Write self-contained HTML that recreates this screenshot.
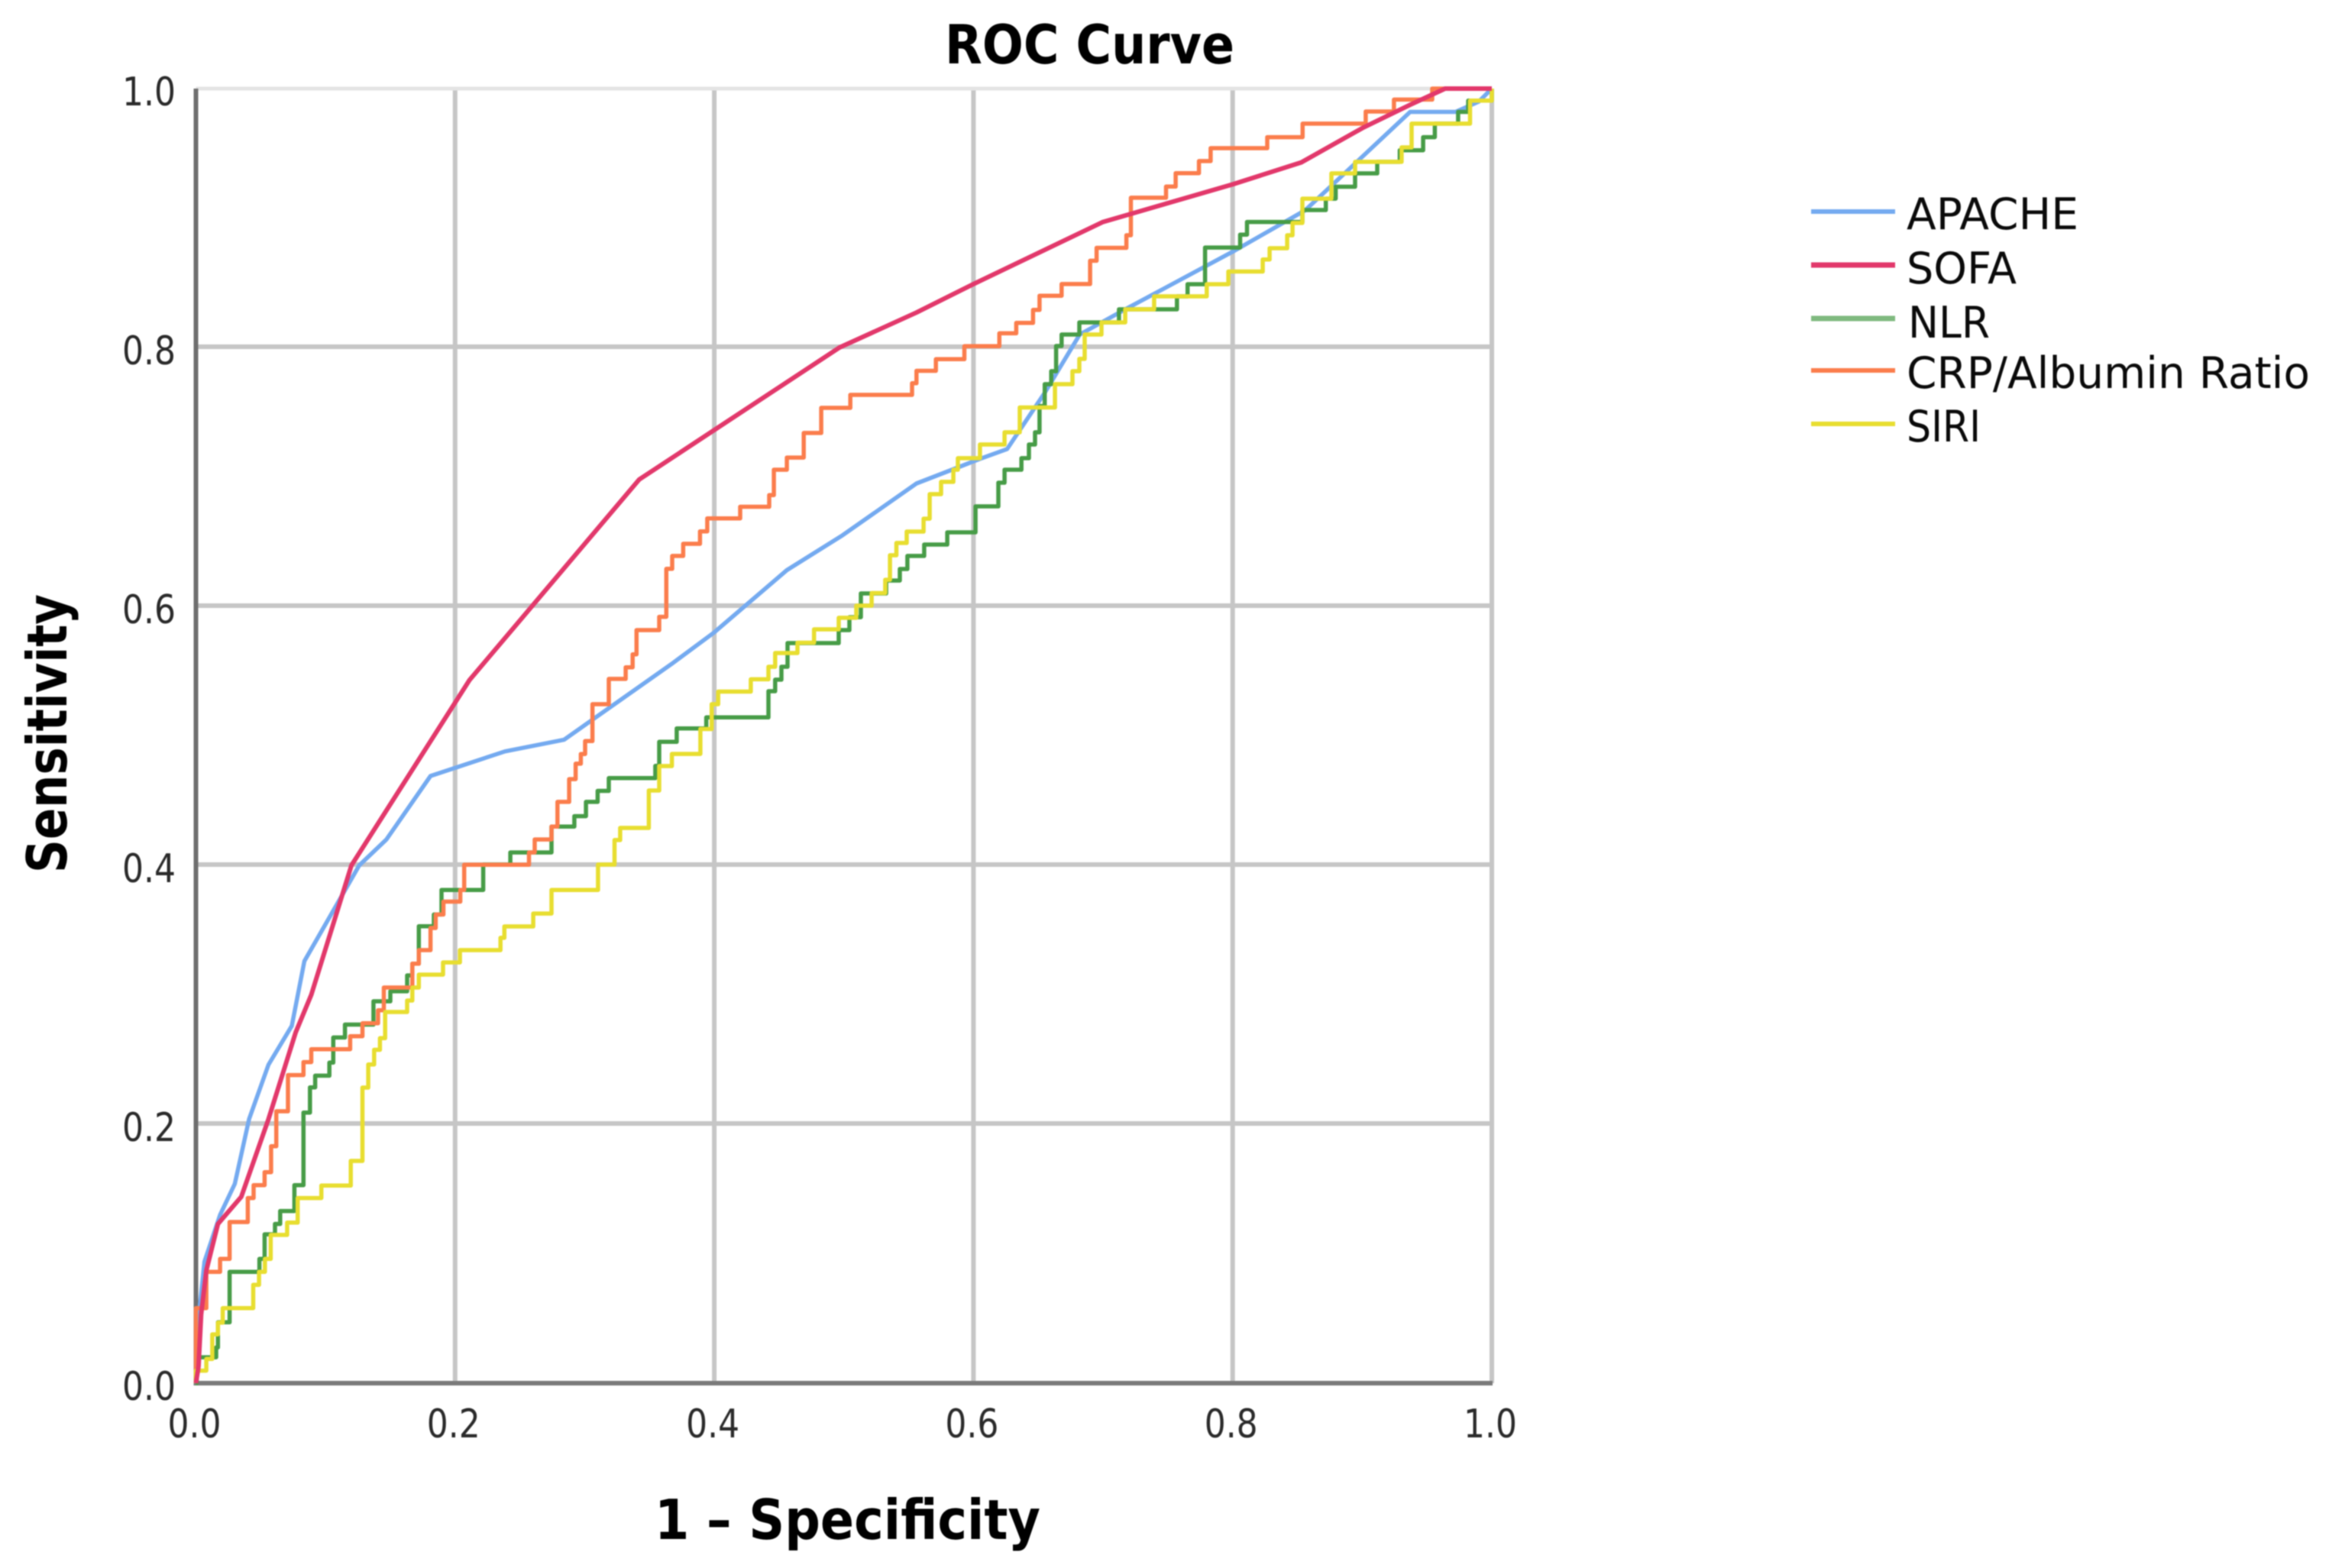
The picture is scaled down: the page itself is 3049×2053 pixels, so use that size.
<!DOCTYPE html>
<html lang="en">
<head>
<meta charset="utf-8">
<title>ROC Curve</title>
<style>
html,body{margin:0;padding:0;background:#fff;}
svg{display:block;width:3049px;height:2053px;filter:blur(0.9px);}
text{font-family:"DejaVu Sans","Liberation Sans",sans-serif;fill:#111;}
.tick{font-size:52px;fill:#2a2a2a;}
.title{font-size:70px;font-weight:bold;fill:#000;}
.legend-label{font-size:57px;fill:#0a0a0a;}
</style>
</head>
<body>
<svg id="chart" xmlns="http://www.w3.org/2000/svg" width="3049" height="2053" viewBox="0 0 3049 2053">
  <rect x="0" y="0" width="3049" height="2053" fill="#ffffff"/>
  <g id="grid"></g>
  <g id="axes"></g>
  <g id="ticks"></g>
  <g id="curves"></g>

  <text class="title" x="1237" y="83" textLength="379" lengthAdjust="spacingAndGlyphs">ROC Curve</text>
  <text class="title" x="857" y="2015" style="font-size:72px" textLength="505" lengthAdjust="spacingAndGlyphs">1 – Specificity</text>
  <text class="title" transform="translate(87,1143) rotate(-90)" x="0" y="0" style="font-size:72px" textLength="365" lengthAdjust="spacingAndGlyphs">Sensitivity</text>

  <g>
    <g>
      <line x1="2371" x2="2481" y1="277" y2="277" stroke="#74aaf0" stroke-width="6"/>
      <text class="legend-label" x="2496" y="300" textLength="225" lengthAdjust="spacingAndGlyphs">APACHE</text>
    </g>
    <g>
      <line x1="2371" x2="2481" y1="347" y2="347" stroke="#e2386b" stroke-width="7"/>
      <text class="legend-label" x="2496" y="371" textLength="144" lengthAdjust="spacingAndGlyphs">SOFA</text>
    </g>
    <g>
      <line x1="2371" x2="2481" y1="417" y2="417" stroke="#7fba7f" stroke-width="7"/>
      <text class="legend-label" x="2498" y="442" textLength="107" lengthAdjust="spacingAndGlyphs">NLR</text>
    </g>
    <g>
      <line x1="2371" x2="2481" y1="485" y2="485" stroke="#fb7d4c" stroke-width="6"/>
      <text class="legend-label" x="2496" y="508" textLength="528" lengthAdjust="spacingAndGlyphs">CRP/Albumin Ratio</text>
    </g>
    <g>
      <line x1="2371" x2="2481" y1="555" y2="555" stroke="#e8de30" stroke-width="6"/>
      <text class="legend-label" x="2496" y="578" textLength="97" lengthAdjust="spacingAndGlyphs">SIRI</text>
    </g>
  </g>
</svg>

<script>
const tickValues = [0, 0.2, 0.4, 0.6, 0.8, 1];
const tickLabels = ["0.0", "0.2", "0.4", "0.6", "0.8", "1.0"];

const apacheX = [0,0.002,0.0066,0.0186,0.03,0.041,0.056,0.074,0.0837,0.126,0.147,0.181,0.2385,0.284,0.367,0.4,0.456,0.499,0.556,0.605,0.626,0.655,0.682,0.70,0.718,0.8,0.856,0.937,0.972,0.99,1];
const apacheY = [0,0.05,0.094,0.13,0.154,0.204,0.246,0.276,0.326,0.40,0.42,0.469,0.488,0.497,0.5555,0.58,0.628,0.655,0.695,0.714,0.7216,0.765,0.81,0.82,0.83,0.874,0.906,0.982,0.982,0.99,1];

const sofaX = [0,0.002,0.004,0.008,0.017,0.035,0.056,0.077,0.089,0.12,0.211,0.342,0.4966,0.556,0.6,0.70,0.8,0.853,0.901,0.937,0.964,1];
const sofaY = [0,0.013,0.053,0.087,0.123,0.144,0.204,0.271,0.30,0.40,0.543,0.698,0.80,0.827,0.849,0.897,0.926,0.943,0.97,0.9875,1,1];

const nlrX = [0,0.0006,0.0156,0.017,0.026,0.049,0.053,0.061,0.065,0.076,0.083,0.088,0.092,0.103,0.106,0.115,0.137,0.15,0.163,0.167,0.172,0.1836,0.1895,0.2217,0.2426,0.2744,0.292,0.301,0.31,0.3186,0.3545,0.3575,0.371,0.3938,0.4418,0.447,0.4518,0.4565,0.496,0.5043,0.5131,0.5326,0.5432,0.549,0.562,0.5798,0.6016,0.6192,0.624,0.637,0.6428,0.6475,0.651,0.655,0.66,0.6638,0.668,0.6817,0.7123,0.757,0.7652,0.7787,0.8058,0.8111,0.8538,0.8719,0.8795,0.8945,0.9116,0.929,0.947,0.956,0.974,0.9818,1];
const nlrY = [0,0.02,0.0276,0.047,0.086,0.096,0.115,0.123,0.133,0.153,0.209,0.2285,0.2375,0.2476,0.267,0.277,0.295,0.3027,0.315,0.324,0.353,0.362,0.381,0.4006,0.41,0.43,0.438,0.449,0.4575,0.4674,0.4768,0.4954,0.5058,0.5143,0.5345,0.5434,0.5534,0.5717,0.5817,0.5917,0.61,0.62,0.6289,0.639,0.6478,0.6572,0.6773,0.6956,0.7056,0.7145,0.7251,0.7345,0.7548,0.7717,0.7817,0.8012,0.81,0.8194,0.8295,0.8395,0.8489,0.8772,0.8872,0.897,0.9062,0.915,0.9242,0.9345,0.9434,0.9524,0.9625,0.9729,0.982,0.9907,1];

const crpX = [0,0,0.008,0.0186,0.026,0.040,0.0445,0.053,0.058,0.062,0.071,0.083,0.089,0.119,0.1285,0.1405,0.145,0.167,0.172,0.181,0.185,0.191,0.204,0.207,0.257,0.2614,0.2744,0.279,0.288,0.293,0.297,0.3003,0.306,0.3186,0.3316,0.337,0.34,0.3575,0.363,0.3675,0.376,0.389,0.3946,0.42,0.4424,0.446,0.456,0.469,0.4825,0.505,0.5526,0.556,0.571,0.593,0.62,0.633,0.646,0.651,0.668,0.69,0.695,0.718,0.7215,0.7486,0.756,0.774,0.783,0.8267,0.854,0.9027,0.9245,0.954,1];
const crpY = [0,0.058,0.086,0.096,0.1245,0.143,0.153,0.163,0.183,0.21,0.238,0.248,0.258,0.268,0.278,0.288,0.3056,0.324,0.3345,0.3516,0.362,0.372,0.381,0.4005,0.41,0.42,0.43,0.449,0.4666,0.4785,0.486,0.496,0.5245,0.544,0.553,0.563,0.5817,0.592,0.629,0.639,0.6484,0.658,0.668,0.677,0.686,0.7056,0.715,0.734,0.7534,0.7634,0.7724,0.782,0.791,0.801,0.811,0.819,0.829,0.84,0.849,0.867,0.877,0.8867,0.9157,0.9243,0.9347,0.944,0.954,0.9625,0.9729,0.9823,0.9915,1,1];

const siriX = [0,0,0.008,0.0126,0.017,0.0207,0.0442,0.0487,0.0532,0.0577,0.0704,0.0785,0.0968,0.1195,0.1285,0.133,0.1375,0.142,0.146,0.163,0.167,0.172,0.1907,0.2037,0.235,0.238,0.2603,0.2744,0.3103,0.323,0.3274,0.3495,0.3575,0.3673,0.3893,0.398,0.403,0.4282,0.4418,0.447,0.4642,0.477,0.496,0.5096,0.5214,0.5319,0.5356,0.5405,0.5485,0.5615,0.5662,0.575,0.5845,0.588,0.605,0.624,0.6357,0.6629,0.6764,0.6817,0.6858,0.6988,0.7171,0.7394,0.78,0.7967,0.8232,0.8285,0.8421,0.8462,0.8538,0.8762,0.8945,0.9304,0.9381,0.9832,1];
const siriY = [0,0.0097,0.0187,0.0377,0.0467,0.058,0.076,0.086,0.096,0.1145,0.124,0.143,0.1526,0.1717,0.2283,0.2462,0.2575,0.2665,0.2867,0.2956,0.3056,0.3156,0.325,0.3345,0.344,0.3528,0.3628,0.381,0.4006,0.4195,0.4289,0.4578,0.4767,0.4861,0.5053,0.5245,0.5342,0.5437,0.5534,0.564,0.572,0.5823,0.5912,0.6006,0.6103,0.6206,0.6395,0.649,0.6578,0.6678,0.6867,0.6962,0.7056,0.7145,0.7251,0.7345,0.7537,0.7717,0.7817,0.7912,0.81,0.8194,0.8295,0.8395,0.8489,0.8587,0.868,0.8767,0.8867,0.8962,0.915,0.9345,0.9434,0.9546,0.9729,0.9907,1];

const SVGNS = 'http://www.w3.org/2000/svg';
const plotLeft = 256.5, plotRight = 1953, plotBottom = 1811, plotTop = 116;
function xScale(v) { return plotLeft + v * (plotRight - plotLeft); }
function yScale(v) { return plotBottom - v * (plotBottom - plotTop); }

const gridGroup = document.getElementById('grid');
const axesGroup = document.getElementById('axes');
const ticksGroup = document.getElementById('ticks');
const curvesGroup = document.getElementById('curves');

function addLine(parent, x1, y1, x2, y2, color, width) {
  const el = document.createElementNS(SVGNS, 'line');
  el.setAttribute('x1', x1);
  el.setAttribute('y1', y1);
  el.setAttribute('x2', x2);
  el.setAttribute('y2', y2);
  el.setAttribute('stroke', color);
  el.setAttribute('stroke-width', width);
  parent.appendChild(el);
  return el;
}

function addTick(x, y, label, anchor) {
  const el = document.createElementNS(SVGNS, 'text');
  el.setAttribute('class', 'tick');
  el.setAttribute('x', x);
  el.setAttribute('y', y);
  el.setAttribute('text-anchor', anchor);
  el.setAttribute('textLength', '70');
  el.setAttribute('lengthAdjust', 'spacingAndGlyphs');
  el.textContent = label;
  ticksGroup.appendChild(el);
  return el;
}

tickValues.forEach(function (v, i) {
  if (i > 0) {
    const vLine = addLine(gridGroup, xScale(v), plotTop + 1, xScale(v), plotBottom, '#c6c6c6', 6);
    
    
    const hLine = addLine(gridGroup, plotLeft, yScale(v) - (i === 5 ? 0 : 1), plotRight, yScale(v) - (i === 5 ? 0 : 1), i === 5 ? '#e4e4e4' : '#c6c6c6', i === 5 ? 5 : 6);
    
    
  }
  const xTick = addTick(xScale(v) - 2, 1882, tickLabels[i], 'middle');
  
  
  const yTick = addTick(230, yScale(v) + 22, tickLabels[i], 'end');
  
  
});

const yAxisLine = addLine(axesGroup, plotLeft, plotTop, plotLeft, plotBottom + 3, '#6f6f6f', 6);


const xAxisLine = addLine(axesGroup, plotLeft - 3, plotBottom, plotRight + 1, plotBottom, '#7a7a7a', 6);



function smoothPath(xs, ys) {
  return xs.map(function (x, i) {
    return (i ? 'L' : 'M') + xScale(x).toFixed(1) + ' ' + yScale(ys[i]).toFixed(1);
  }).join(' ');
}

function stepPath(xs, ys) {
  let d = 'M' + xScale(xs[0]).toFixed(1) + ' ' + yScale(ys[0]).toFixed(1);
  for (let i = 1; i < xs.length; i++) {
    d += ' H' + xScale(xs[i]).toFixed(1) + ' V' + yScale(ys[i]).toFixed(1);
  }
  return d;
}

function addCurve(d, color, width) {
  const el = document.createElementNS(SVGNS, 'path');
  el.setAttribute('d', d);
  el.setAttribute('fill', 'none');
  el.setAttribute('stroke', color);
  el.setAttribute('stroke-width', width);
  el.setAttribute('stroke-linejoin', 'round');
  curvesGroup.appendChild(el);
  return el;
}

const apacheCurve = addCurve(smoothPath(apacheX, apacheY), '#74aaf0', 5.5);



const nlrCurve = addCurve(stepPath(nlrX, nlrY), '#479c47', 5.5);



const crpCurve = addCurve(stepPath(crpX, crpY), '#fb7d4c', 5.5);



const siriCurve = addCurve(stepPath(siriX, siriY), '#e8de30', 5.5);



const sofaCurve = addCurve(smoothPath(sofaX, sofaY), '#e2386b', 6);


</script>
</body>
</html>
